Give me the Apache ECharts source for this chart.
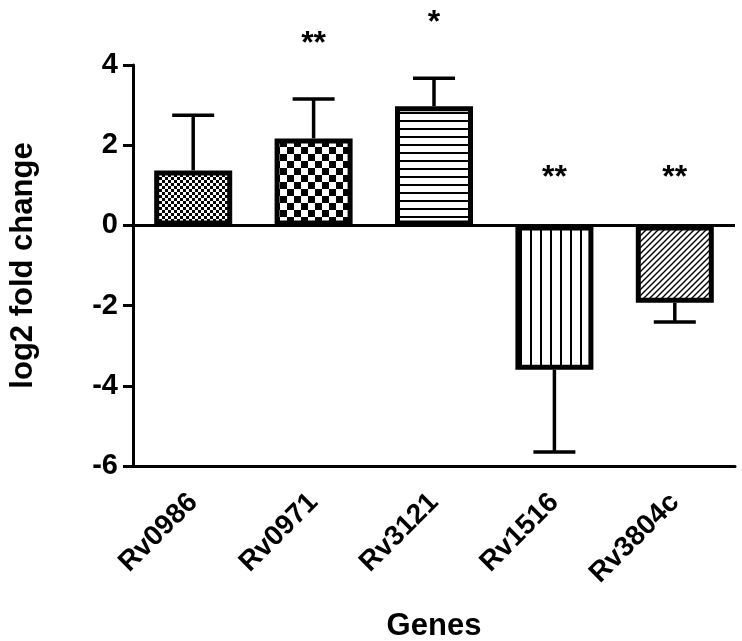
<!DOCTYPE html>
<html>
<head>
<meta charset="utf-8">
<script src="https://cdn.jsdelivr.net/npm/echarts@6/dist/echarts.min.js"></script>
<style>
html,body{margin:0;padding:0;background:#fff;}
#chart{width:742px;height:641px;}
</style>
</head>
<body>
<div id="chart"></div>
<script>
var genes = ['Rv0986', 'Rv0971', 'Rv3121', 'Rv1516', 'Rv3804c'];
var foldChange = [1.37, 2.17, 2.97, -3.6, -1.93];
var errorSD = [1.38, 0.98, 0.7, 2.05, 0.48];
var significance = ['', '**', '*', '**', '**'];
var yTicks = [-6, -4, -2, 0, 2, 4];

function makePattern(kind) {
  var c = document.createElement('canvas');
  var ctx;
  if (kind === 'fineChecker') {
    c.width = 6; c.height = 6; ctx = c.getContext('2d');
    ctx.fillStyle = '#fff'; ctx.fillRect(0, 0, 6, 6);
    ctx.fillStyle = '#000'; ctx.fillRect(0, 0, 3, 3); ctx.fillRect(3, 3, 3, 3);
  } else if (kind === 'checker') {
    c.width = 14; c.height = 14; ctx = c.getContext('2d');
    ctx.fillStyle = '#fff'; ctx.fillRect(0, 0, 14, 14);
    ctx.fillStyle = '#000'; ctx.fillRect(0, 0, 7, 7); ctx.fillRect(7, 7, 7, 7);
  } else if (kind === 'hlines') {
    c.width = 4; c.height = 8; ctx = c.getContext('2d');
    ctx.fillStyle = '#fff'; ctx.fillRect(0, 0, 4, 8);
    ctx.fillStyle = '#000'; ctx.fillRect(0, 0, 4, 2);
  } else if (kind === 'vlines') {
    c.width = 10; c.height = 4; ctx = c.getContext('2d');
    ctx.fillStyle = '#fff'; ctx.fillRect(0, 0, 10, 4);
    ctx.fillStyle = '#000'; ctx.fillRect(0, 0, 2, 4);
  } else {
    c.width = 6; c.height = 6; ctx = c.getContext('2d');
    ctx.fillStyle = '#fff'; ctx.fillRect(0, 0, 6, 6);
    ctx.strokeStyle = '#000'; ctx.lineWidth = 1.4;
    ctx.beginPath();
    ctx.moveTo(-1, 7); ctx.lineTo(7, -1);
    ctx.moveTo(-1, 1); ctx.lineTo(1, -1);
    ctx.moveTo(5, 7); ctx.lineTo(7, 5);
    ctx.stroke();
  }
  return c;
}
var patternKinds = ['fineChecker', 'checker', 'hlines', 'vlines', 'diag'];

var chart = echarts.init(document.getElementById('chart'));
var fontFam = '"Liberation Sans", Arial, sans-serif';

var barData = foldChange.map(function (v, i) {
  return {
    value: v,
    itemStyle: {
      color: { image: makePattern(patternKinds[i]), repeat: 'repeat' },
      borderColor: '#000',
      borderWidth: 5
    }
  };
});

var errData = foldChange.map(function (v, i) { return [i, v, errorSD[i]]; });
var sigData = foldChange.map(function (v, i) { return [i, v, errorSD[i]]; });

chart.setOption({
  animation: false,
  backgroundColor: '#fff',
  grid: { left: 133, right: 7, top: 65, bottom: 175, containLabel: false, outerBoundsMode: 'none' },
  xAxis: {
    type: 'category',
    data: genes,
    name: 'Genes',
    nameLocation: 'middle',
    nameGap: 145,
    nameTextStyle: { fontSize: 31, fontWeight: 'bold', color: '#000', fontFamily: fontFam },
    axisLine: { onZero: false, lineStyle: { color: '#000', width: 3 } },
    axisTick: { alignWithLabel: true, length: 11, lineStyle: { color: '#000', width: 3 } },
    axisLabel: { interval: 0, rotate: 45, margin: 32, fontSize: 28, fontWeight: 'bold', color: '#000', fontFamily: fontFam }
  },
  yAxis: {
    type: 'value',
    min: yTicks[0],
    max: yTicks[yTicks.length - 1],
    interval: 2,
    name: 'log2 fold change',
    nameLocation: 'middle',
    nameGap: 94,
    nameTextStyle: { fontSize: 31, fontWeight: 'bold', color: '#000', fontFamily: fontFam },
    axisLine: { show: true, lineStyle: { color: '#000', width: 3 } },
    axisTick: { show: true, length: 10, lineStyle: { color: '#000', width: 3 } },
    axisLabel: { margin: 15, fontSize: 29, fontWeight: 'bold', color: '#000', fontFamily: fontFam },
    splitLine: { show: false }
  },
  series: [
    {
      type: 'bar',
      data: barData,
      barWidth: 78,
      z: 2,
      markLine: {
        silent: true,
        symbol: 'none',
        label: { show: false },
        lineStyle: { color: '#000', width: 3, type: 'solid' },
        data: [{ yAxis: 0 }]
      }
    },
    {
      type: 'custom',
      data: errData,
      z: 3,
      renderItem: function (params, api) {
        var i = api.value(0), v = api.value(1), e = api.value(2);
        var end = v >= 0 ? v + e : v - e;
        var p0 = api.coord([i, v]);
        var p1 = api.coord([i, end]);
        var half = 21;
        var style = { stroke: '#000', lineWidth: 3.5 };
        return {
          type: 'group',
          children: [
            { type: 'line', shape: { x1: p0[0], y1: p0[1], x2: p1[0], y2: p1[1] }, style: style },
            { type: 'line', shape: { x1: p1[0] - half, y1: p1[1], x2: p1[0] + half, y2: p1[1] }, style: style }
          ]
        };
      }
    },
    {
      type: 'custom',
      data: sigData,
      z: 4,
      renderItem: function (params, api) {
        var i = api.value(0), v = api.value(1), e = api.value(2);
        var txt = significance[params.dataIndex];
        var p = v >= 0 ? api.coord([i, v + e]) : api.coord([i, 0]);
        var y = v >= 0 ? p[1] - 55 : p[1] - 47;
        return {
          type: 'text',
          style: {
            text: txt, x: p[0], y: y,
            textAlign: 'center', textVerticalAlign: 'middle',
            fontSize: 32, fontWeight: 'bold', fontFamily: fontFam, fill: '#000'
          }
        };
      }
    }
  ]
});
</script>
</body>
</html>
